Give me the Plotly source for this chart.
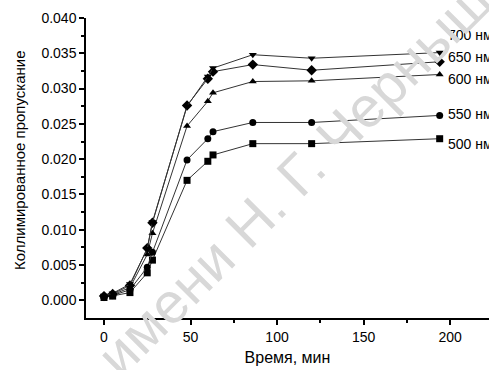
import plotly.graph_objects as go

time_min = [0, 5, 15, 25, 28, 48, 60, 63, 86, 120, 194]
s500 = [0.0004, 0.0006, 0.0011, 0.0039, 0.0057, 0.0170, 0.0197, 0.0206, 0.0222, 0.0222, 0.0229]
s550 = [0.0005, 0.0007, 0.0015, 0.0047, 0.0068, 0.0199, 0.0229, 0.0239, 0.0252, 0.0252, 0.0262]
s600 = [0.0005, 0.0008, 0.0018, 0.0065, 0.0095, 0.0247, 0.0282, 0.0294, 0.0310, 0.0311, 0.0320]
s650 = [0.0006, 0.0009, 0.0021, 0.0074, 0.0110, 0.0276, 0.0314, 0.0324, 0.0334, 0.0326, 0.0338]
s700 = [0.0007, 0.0010, 0.0023, 0.0073, 0.0111, 0.0275, 0.0317, 0.0329, 0.0348, 0.0343, 0.0351]

series_names = ["500 нм", "550 нм", "600 нм", "650 нм", "700 нм"]
series_vals = [s500, s550, s600, s650, s700]
symbols = ["square", "circle", "triangle-up", "diamond", "triangle-down"]
label_y = [0.0222, 0.0264, 0.0314, 0.0345, 0.0376]
label_x = 197.5

FONT = "Liberation Sans, Arial, sans-serif"

fig = go.Figure()
for name, vals, sym in zip(series_names, series_vals, symbols):
    fig.add_trace(go.Scatter(
        x=time_min, y=vals, mode="lines+markers", name=name,
        line=dict(color="#333333", width=1),
        marker=dict(symbol=sym, size=7 if sym != "diamond" else 8, color="black"),
        showlegend=False, cliponaxis=False,
    ))

annotations = []
for name, ly in zip(series_names, label_y):
    annotations.append(dict(
        x=label_x, y=ly, xref="x", yref="y", text=name, showarrow=False,
        xanchor="left", yanchor="middle", font=dict(family=FONT, size=14, color="black"),
    ))

# watermark
annotations.append(dict(
    x=0.69, y=0.70, xref="paper", yref="paper", text="имени Н. Г. Чернышевского",
    showarrow=False, textangle=-45, xanchor="center", yanchor="middle",
    font=dict(family=FONT, size=57, color="#d8d8d8"),
))

# y-axis title
annotations.append(dict(
    x=-0.165, y=0.525, xref="paper", yref="paper", text="Коллимированное пропускание",
    showarrow=False, textangle=-90, xanchor="center", yanchor="middle",
    font=dict(family=FONT, size=15, color="black"),
))

fig.update_layout(
    width=489, height=370,
    margin=dict(l=86, r=0, t=18, b=52),
    paper_bgcolor="white", plot_bgcolor="white",
    font=dict(family=FONT, size=14, color="black"),
    annotations=annotations,
    xaxis=dict(
        range=[-10.4, 222.5], showgrid=False, zeroline=False,
        showline=True, linecolor="black", linewidth=1.5,
        ticks="outside", ticklen=5, tickwidth=1.5, tickcolor="black",
        tickvals=[0, 50, 100, 150, 200],
        minor=dict(ticks="outside", ticklen=3, tickvals=[25, 75, 125, 175, 225], tickcolor="black", tickwidth=1.5),
        title=dict(text="Время, мин", font=dict(size=16), standoff=8),
        tickfont=dict(size=14),
    ),
    yaxis=dict(
        range=[-0.0025, 0.040], showgrid=False, zeroline=False,
        showline=True, linecolor="black", linewidth=1.5,
        ticks="outside", ticklen=5, tickwidth=1.5, tickcolor="black",
        tickvals=[0, 0.005, 0.01, 0.015, 0.02, 0.025, 0.03, 0.035, 0.04],
        tickformat=".3f",
        minor=dict(ticks="outside", ticklen=3, tickvals=[0.0025, 0.0075, 0.0125, 0.0175, 0.0225, 0.0275, 0.0325, 0.0375], tickcolor="black", tickwidth=1.5),
        tickfont=dict(size=14),
    ),
)

fig.write_html("out.html")
